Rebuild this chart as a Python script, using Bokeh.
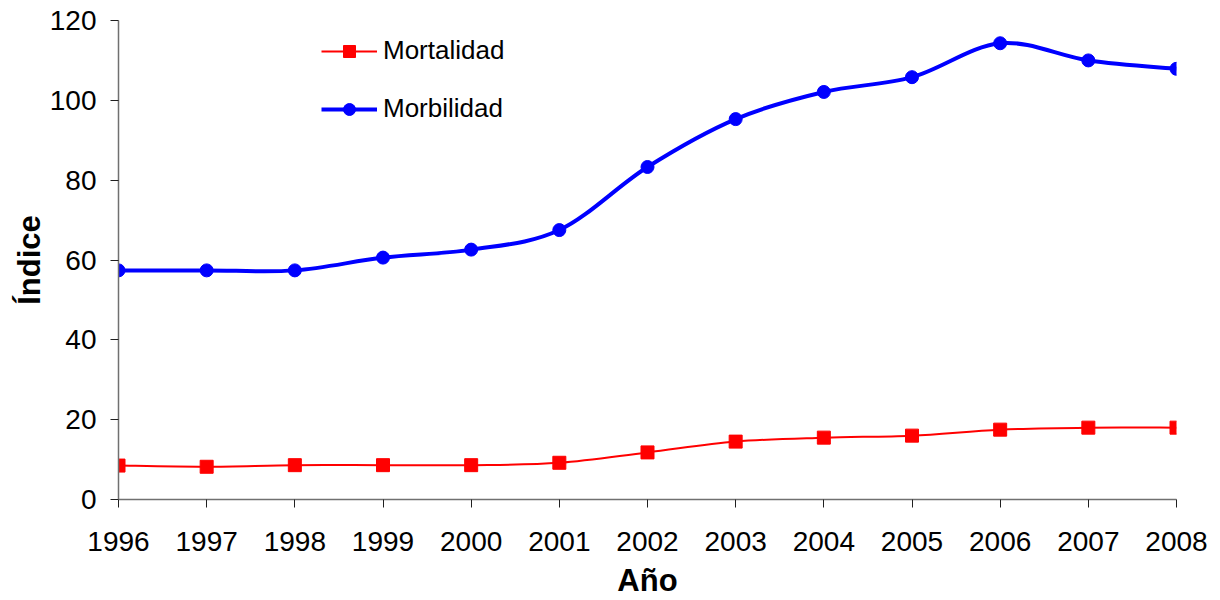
import numpy as np
from bokeh.plotting import figure
from bokeh.models import Range1d, FixedTicker, Legend, LegendItem, ColumnDataSource
from bokeh.embed import file_html
from bokeh.resources import INLINE

# Data
years = [1996, 1997, 1998, 1999, 2000, 2001, 2002, 2003, 2004, 2005, 2006, 2007, 2008]
mortalidad = [8.5, 8.2, 8.6, 8.6, 8.6, 9.2, 11.8, 14.5, 15.5, 16.0, 17.5, 18.0, 18.0]
morbilidad = [57.4, 57.4, 57.4, 60.6, 62.6, 67.5, 83.3, 95.3, 102.1, 105.8, 114.3, 110.0, 107.9]
y_ticks = [0, 20, 40, 60, 80, 100, 120]

FONT = "Liberation Sans"


def smooth_segments(xs, ys, t=1.0 / 6.0):
    x = np.asarray(xs, dtype=float)
    y = np.asarray(ys, dtype=float)
    xp = np.concatenate([[x[0]], x, [x[-1]]])
    yp = np.concatenate([[y[0]], y, [y[-1]]])
    n = len(x) - 1
    d = dict(x0=[], y0=[], x1=[], y1=[], cx0=[], cy0=[], cx1=[], cy1=[])
    for i in range(n):
        j = i + 1
        d["x0"].append(xp[j]); d["y0"].append(yp[j])
        d["x1"].append(xp[j + 1]); d["y1"].append(yp[j + 1])
        d["cx0"].append(xp[j] + (xp[j + 1] - xp[j - 1]) * t)
        d["cy0"].append(yp[j] + (yp[j + 1] - yp[j - 1]) * t)
        d["cx1"].append(xp[j + 1] - (xp[j + 2] - xp[j]) * t)
        d["cy1"].append(yp[j + 1] - (yp[j + 2] - yp[j]) * t)
    return ColumnDataSource(d)


p = figure(width=1220, height=600, output_backend="svg", toolbar_location=None,
           x_range=Range1d(1996, 2008), y_range=Range1d(0, 120),
           min_border_left=118, min_border_right=44, min_border_top=20, min_border_bottom=101)
p.outline_line_color = None
p.xgrid.visible = False
p.ygrid.visible = False
p.background_fill_color = "white"
p.border_fill_color = "white"

RED = "#ff0000"
BLUE = "#0000ff"

mort_line = p.bezier(x0="x0", y0="y0", x1="x1", y1="y1", cx0="cx0", cy0="cy0", cx1="cx1", cy1="cy1",
                     source=smooth_segments(years, mortalidad), line_color=RED, line_width=2)
mort_pts = p.scatter(years, mortalidad, marker="square", size=13, fill_color=RED, line_color=RED)

morb_line = p.bezier(x0="x0", y0="y0", x1="x1", y1="y1", cx0="cx0", cy0="cy0", cx1="cx1", cy1="cy1",
                     source=smooth_segments(years, morbilidad), line_color=BLUE, line_width=4)
morb_pts = p.scatter(years, morbilidad, marker="circle", size=13, fill_color=BLUE, line_color=BLUE)

# Axes
p.xaxis.ticker = FixedTicker(ticks=years)
p.yaxis.ticker = FixedTicker(ticks=y_ticks)
for ax in (p.xaxis, p.yaxis):
    ax.axis_line_color = "#707070"
    ax.axis_line_width = 1.5
    ax.major_tick_line_color = "#202020"
    ax.major_tick_in = 0
    ax.major_tick_out = 8
    ax.minor_tick_line_color = None
    ax.major_label_text_font = FONT
    ax.major_label_text_font_size = "28px"
    ax.major_label_text_color = "black"
    ax.axis_label_text_font = FONT
    ax.axis_label_text_font_size = "31px"
    ax.axis_label_text_font_style = "bold"
    ax.axis_label_text_color = "black"

p.xaxis.axis_label = "Año"
p.yaxis.axis_label = "Índice"
p.xaxis.major_label_standoff = 24
p.xaxis.axis_label_standoff = 9
p.yaxis.major_label_standoff = 14
p.yaxis.axis_label_standoff = 0

legend = Legend(items=[
    LegendItem(label="Mortalidad", renderers=[mort_line, mort_pts]),
    LegendItem(label="Morbilidad", renderers=[morb_line, morb_pts]),
], location=(203, 375))
legend.border_line_color = None
legend.background_fill_alpha = 0
legend.padding = 0
legend.margin = 0
legend.glyph_width = 56
legend.glyph_height = 30
legend.label_height = 30
legend.spacing = 27
legend.label_standoff = 6
legend.label_text_font = FONT
legend.label_text_font_size = "26px"
legend.label_text_color = "black"
p.add_layout(legend, "center")

open("out.html", "w").write(file_html(p, INLINE))
